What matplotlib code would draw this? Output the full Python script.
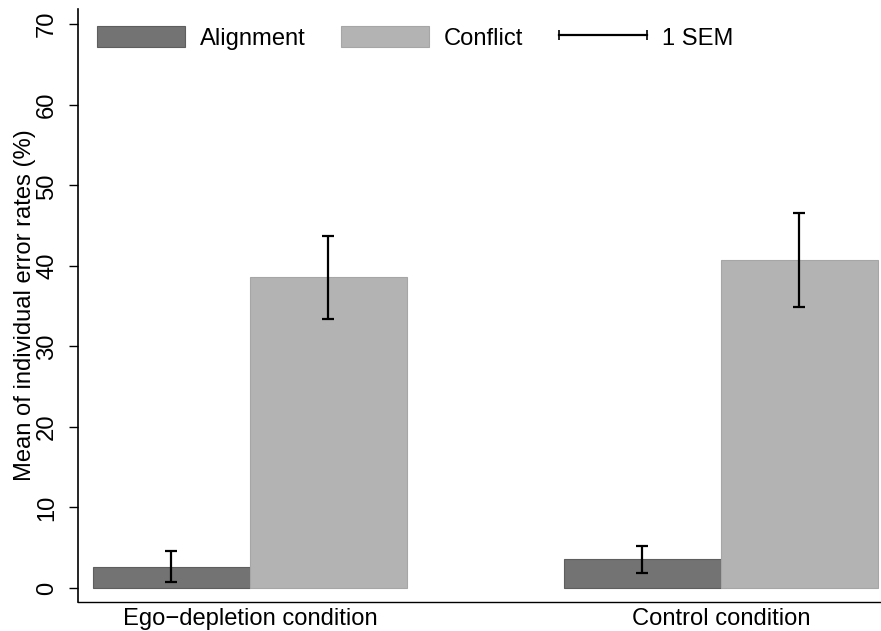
import matplotlib
matplotlib.use("Agg")
import matplotlib.pyplot as plt
from matplotlib.patches import Patch
from matplotlib.lines import Line2D
from matplotlib.legend_handler import HandlerLine2D
import numpy as np

plt.rcParams['font.family'] = ['Liberation Sans', 'DejaVu Sans']

conditions = ["Ego\u2212depletion condition", "Control condition"]
series = ["Alignment", "Conflict"]
alignment_mean = [2.65, 3.55]
conflict_mean = [38.6, 40.7]
alignment_sem = [1.9, 1.68]
conflict_sem = [5.15, 5.83]
y_ticks = [0, 10, 20, 30, 40, 50, 60, 70]

FS = 17.1

fig = plt.figure(figsize=(8.81, 6.31), dpi=100)
ax = fig.add_axes([78.3 / 881, 29 / 631, 1 - 78.3 / 881, (602 - 9) / 631])

x = np.arange(len(conditions))
w = 1 / 3
colors = {"Alignment": "#737373", "Conflict": "#b3b3b3"}
edges = {"Alignment": "#5e5e5e", "Conflict": "#a6a6a6"}

for off, name, means, sems in [(-w / 2, "Alignment", alignment_mean, alignment_sem),
                               (w / 2, "Conflict", conflict_mean, conflict_sem)]:
    ax.bar(x + off, means, width=w, color=colors[name], edgecolor=edges[name],
           linewidth=0.8, zorder=2)
    ax.errorbar(x + off, means, yerr=sems, fmt="none", ecolor="black",
                elinewidth=1.6, capsize=4.3, capthick=1.6, zorder=3)

ax.set_xlim(-0.3645, 1.34)
ax.set_ylim(-1.74, 71.9)
ax.set_xticks(x)
ax.set_xticklabels(conditions, fontsize=FS)
ax.tick_params(axis="x", length=0, pad=4)
ax.set_yticks(y_ticks)
ax.set_yticklabels([str(t) for t in y_ticks], rotation=90, va="center", fontsize=FS)
ax.tick_params(axis="y", length=6.5, width=1, pad=8)
ax.set_ylabel("Mean of individual error rates (%)", fontsize=FS, labelpad=0)

for s in ["top", "right"]:
    ax.spines[s].set_visible(False)
ax.spines["left"].set_linewidth(1.2)
ax.spines["bottom"].set_linewidth(1.0)

sem_handle = Line2D([0, 1], [0, 0], color="black", linewidth=1.6, marker="|",
                    markersize=7, markeredgewidth=1.2)
handles = [
    Patch(facecolor=colors["Alignment"], edgecolor=edges["Alignment"], linewidth=0.8),
    Patch(facecolor=colors["Conflict"], edgecolor=edges["Conflict"], linewidth=0.8),
    sem_handle,
]
leg = ax.legend(handles, ["Alignment", "Conflict", "1 SEM"], ncol=3,
                loc="upper left", bbox_to_anchor=(97 / 881, 1 - 26 / 631),
                bbox_transform=fig.transFigure, frameon=False, fontsize=FS,
                handlelength=3.7, handleheight=1.0, handletextpad=0.63,
                columnspacing=1.5, numpoints=2, borderpad=0, borderaxespad=0,
                handler_map={sem_handle: HandlerLine2D(marker_pad=0)})

fig.savefig("out.png", dpi=100, facecolor="white")
